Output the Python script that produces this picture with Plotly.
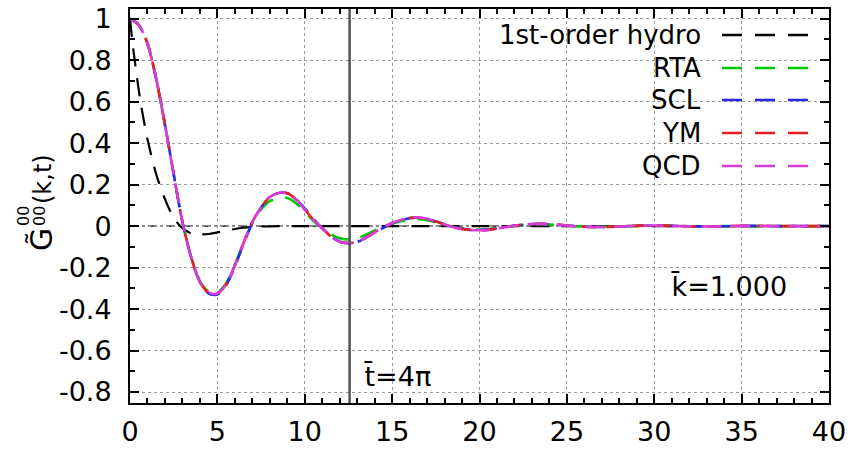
import numpy as np
import plotly.graph_objects as go

# ---------------- data ----------------
t_kin = [0, 0.5, 1.0, 1.5, 2.0, 2.5, 3.0, 3.5, 4.0, 4.5, 5.0, 5.5, 6.0, 6.5, 7.0, 7.5,
         8.0, 8.5, 9.0, 9.5, 10.0, 10.5, 11.0, 11.5, 12.0, 12.5, 13.0, 13.5, 14.0, 14.5,
         15.0, 15.5, 16.0, 16.5, 17.0, 17.5, 18.0, 18.5, 19.0, 19.5, 20.0, 20.5, 21.0,
         21.5, 22.0, 22.5, 23.0, 23.5, 24.0, 24.5, 25.0, 26, 27, 28, 29, 30, 31, 32, 33,
         34, 35, 36, 37, 38, 39, 40]

qcd = [1.0, 0.97, 0.88, 0.71, 0.49, 0.25, 0.02, -0.15, -0.27, -0.32, -0.325, -0.28,
       -0.19, -0.08, 0.02, 0.09, 0.14, 0.16, 0.16, 0.13, 0.08, 0.03, -0.01, -0.05,
       -0.075, -0.083, -0.075, -0.055, -0.03, -0.005, 0.015, 0.03, 0.04, 0.042, 0.035,
       0.022, 0.008, -0.005, -0.014, -0.019, -0.02, -0.018, -0.012, -0.005, 0.002,
       0.007, 0.01, 0.011, 0.01, 0.007, 0.003, -0.003, -0.005, -0.002, 0.002, 0.003,
       0.001, -0.001, -0.002, -0.001, 0.001, 0.001, 0.0, 0.0, 0.0, 0.0]

ym = [1.0, 0.97, 0.88, 0.71, 0.49, 0.25, 0.02, -0.15, -0.27, -0.32, -0.325, -0.28,
      -0.19, -0.08, 0.02, 0.09, 0.14, 0.16, 0.158, 0.128, 0.08, 0.03, -0.01, -0.05,
      -0.075, -0.082, -0.075, -0.055, -0.03, -0.005, 0.015, 0.03, 0.04, 0.041, 0.034,
      0.022, 0.008, -0.005, -0.014, -0.019, -0.02, -0.018, -0.012, -0.005, 0.002,
      0.007, 0.01, 0.011, 0.01, 0.007, 0.003, -0.003, -0.005, -0.002, 0.002, 0.003,
      0.001, -0.001, -0.002, -0.001, 0.001, 0.001, 0.0, 0.0, 0.0, 0.0]

scl = [1.0, 0.97, 0.88, 0.71, 0.49, 0.25, 0.02, -0.15, -0.27, -0.325, -0.33, -0.285,
       -0.195, -0.085, 0.015, 0.09, 0.14, 0.16, 0.158, 0.13, 0.085, 0.035, -0.01, -0.05,
       -0.075, -0.082, -0.076, -0.056, -0.032, -0.008, 0.012, 0.028, 0.038, 0.041, 0.035,
       0.023, 0.009, -0.004, -0.013, -0.018, -0.019, -0.017, -0.011, -0.004, 0.002,
       0.007, 0.01, 0.011, 0.009, 0.006, 0.003, -0.003, -0.004, -0.002, 0.002, 0.002,
       0.001, -0.001, -0.001, -0.001, 0.001, 0.001, 0.0, 0.0, 0.0, 0.0]

rta = [1.0, 0.97, 0.88, 0.71, 0.49, 0.25, 0.02, -0.15, -0.265, -0.315, -0.32, -0.275,
       -0.185, -0.08, 0.015, 0.08, 0.12, 0.135, 0.135, 0.11, 0.07, 0.025, -0.01, -0.04,
       -0.058, -0.064, -0.058, -0.042, -0.022, -0.003, 0.012, 0.024, 0.031, 0.033, 0.028,
       0.018, 0.007, -0.004, -0.011, -0.015, -0.016, -0.014, -0.009, -0.004, 0.001,
       0.005, 0.007, 0.008, 0.007, 0.005, 0.002, -0.002, -0.003, -0.001, 0.001, 0.002,
       0.001, -0.001, -0.001, 0.0, 0.0, 0.0, 0.0, 0.0, 0.0, 0.0]

t_hydro = [0, 0.15, 0.3, 0.6, 1.0, 1.5, 2.0, 2.5, 3.0, 3.5, 4.0, 4.5, 5.0, 5.5, 6.0,
           6.5, 7.0, 8.0, 10.0, 40.0]
hydro = [1.0, 0.88, 0.78, 0.60, 0.42, 0.25, 0.13, 0.04, -0.01, -0.035, -0.04, -0.038,
         -0.03, -0.022, -0.014, -0.008, -0.004, -0.001, 0.0, 0.0]

series_names = ["1st-order hydro", "RTA", "SCL", "YM", "QCD"]
series_colors = ["#000000", "#00c800", "#2828e6", "#e62020", "#d83cd8"]

x_tickvals = [0, 5, 10, 15, 20, 25, 30, 35, 40]
x_ticktext = ["0", "5", "10", "15", "20", "25", "30", "35", "40"]
y_tickvals = [-0.8, -0.6, -0.4, -0.2, 0, 0.2, 0.4, 0.6, 0.8, 1.0]
y_ticktext = ["-0.8", "-0.6", "-0.4", "-0.2", "0", "0.2", "0.4", "0.6", "0.8", "1"]

t_mark = 4 * np.pi
k_label = "k\u0304=1.000"
t_label = "t\u0304=4\u03c0"

# ---------------- figure ----------------
FONT = "DejaVu Sans"
fig = go.Figure()

dashes = ["18px,12px", "18px,12px", "16px,10px", "14px,11px", "20px,9px"]
widths = [2.2, 2.6, 2.6, 2.6, 2.6]
xs = [t_hydro, t_kin, t_kin, t_kin, t_kin]
ys = [hydro, rta, scl, ym, qcd]
for name, col, dsh, w, x, y in zip(series_names, series_colors, dashes, widths, xs, ys):
    fig.add_trace(go.Scatter(x=x, y=y, mode="lines", name=name,
                             line=dict(color=col, width=w, dash=dsh, shape="spline",
                                       smoothing=0.8),
                             showlegend=False))

# zero line (dash-dot) and t = 4 pi marker
fig.add_shape(type="line", xref="paper", x0=0, x1=1, yref="y", y0=0, y1=0,
              line=dict(color="black", width=1.2, dash="dashdot"), layer="below")
fig.add_shape(type="line", xref="x", x0=t_mark, x1=t_mark, yref="paper", y0=0, y1=1,
              line=dict(color="#555555", width=2.5))

plot_top, plot_bot, plot_l, plot_r = 9, 403, 130, 829
def px_x(p):
    return (p - plot_l) / (plot_r - plot_l)
def px_y(p):
    return (plot_bot - p) / (plot_bot - plot_top)

# custom legend (text right-aligned, sample to the right)
legend_rows_px = [35, 68, 100, 133, 166]
for name, col, row in zip(series_names, series_colors, legend_rows_px):
    fig.add_annotation(x=px_x(703), y=px_y(row), xref="paper", yref="paper",
                       text=name, showarrow=False, xanchor="right", yanchor="middle",
                       font=dict(family=FONT, size=26, color="black"))
    fig.add_shape(type="line", xref="paper", yref="paper",
                  x0=px_x(722), x1=px_x(810), y0=px_y(row), y1=px_y(row),
                  line=dict(color=col, width=2.6 if col != "#000000" else 2.4,
                            dash="20px,13px"))

fig.add_annotation(x=px_x(789), y=px_y(286), xref="paper", yref="paper", text=k_label,
                   showarrow=False, xanchor="right", yanchor="middle",
                   font=dict(family=FONT, size=27, color="black"))
fig.add_annotation(x=px_x(362), y=px_y(376), xref="paper", yref="paper", text=t_label,
                   showarrow=False, xanchor="left", yanchor="middle",
                   font=dict(family=FONT, size=27, color="black"))

# y-axis title built from pieces so the super/subscripts stack
title_parts = [("G\u0303", 30, 42, 240), ("00", 16, 23, 216), ("00", 16, 39, 216),
               ("(k,t)", 24, 43, 179)]
for txt, sz, cx, cy in title_parts:
    fig.add_annotation(x=px_x(cx), y=px_y(cy), xref="paper", yref="paper", text=txt,
                       showarrow=False, textangle=-90, xanchor="center",
                       yanchor="middle", font=dict(family=FONT, size=sz, color="black"))

axis_common = dict(showline=True, linecolor="black", linewidth=2, mirror="ticks",
                   ticks="inside", ticklen=9, tickwidth=1.5, tickcolor="black",
                   showgrid=True, gridcolor="#9a9a9a", griddash="dot", gridwidth=1,
                   zeroline=False, automargin=False,
                   tickfont=dict(family=FONT, size=27, color="black"))

fig.update_xaxes(range=[0, 40], tickmode="array", tickvals=x_tickvals,
                 ticktext=x_ticktext, ticklabelstandoff=4,
                 minor=dict(dtick=1, ticks="inside", ticklen=5, tickcolor="black",
                            showgrid=False),
                 **axis_common)
fig.update_yaxes(range=[-0.853, 1.047], tickmode="array", tickvals=y_tickvals,
                 ticktext=y_ticktext, ticklabelstandoff=11,
                 minor=dict(dtick=0.1, tick0=0, ticks="inside", ticklen=5,
                            tickcolor="black", showgrid=False),
                 **axis_common)

fig.update_layout(width=852, height=449, margin=dict(l=130, r=23, t=9, b=46),
                  paper_bgcolor="white", plot_bgcolor="white", showlegend=False)

fig.write_html("out.html")
